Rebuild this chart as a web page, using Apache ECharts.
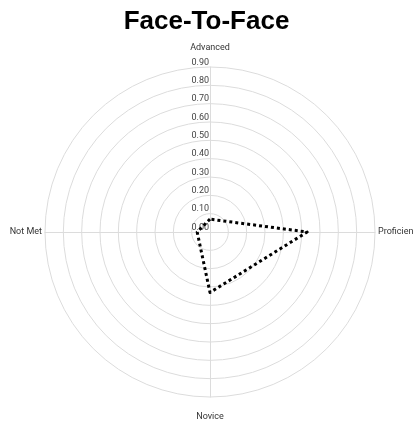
<!DOCTYPE html>
<html>

<head>
    <meta charset="utf-8">
    <script src="https://cdn.jsdelivr.net/npm/echarts@6.0.0/dist/echarts.min.js"></script>
    <style>
        body { margin: 0; }
        #main { width: 413px; height: 423px; }
    </style>
</head>

<body>
    <div id="main"></div>
</body>

<script type="text/javascript">
    // clockwise from the top
    var categories = ['Advanced', 'Proficient', 'Novice', 'Not Met'];
    var values = [0.07, 0.53, 0.33, 0.07];
    var axisMax = 0.9;
    var axisSteps = 9;
    // gap between ring and label text, per indicator
    var nameGaps = [15, 3, 15, 3];

    var chart = echarts.init(document.getElementById('main'));

    // echarts radar runs counter-clockwise, so walk the list backwards after the first one
    var order = [0];
    for (var k = categories.length - 1; k > 0; k--) order.push(k);

    var indicators = order.map(function (i) {
        var ind = { name: categories[i], min: 0, max: axisMax, nameGap: nameGaps[i] };
        if (i === 0) {
            ind.axisLabel = { show: true };
        }
        return ind;
    });
    var seriesValues = order.map(function (i) { return values[i]; });

    option = {
        title: {
            text: 'Face-To-Face',
            left: 'center',
            top: 4,
            textStyle: {
                fontFamily: 'Liberation Sans',
                fontSize: 26,
                fontWeight: 'bold',
                color: '#000'
            }
        },
        radar: {
            center: [210, 232],
            radius: 165,
            startAngle: 90,
            shape: 'circle',
            splitNumber: axisSteps,
            indicator: indicators,
            axisName: {
                color: '#333',
                fontFamily: 'Roboto',
                fontSize: 9
            },
            axisLine: { lineStyle: { color: '#dcdcdc', width: 1 } },
            splitLine: { lineStyle: { color: '#dcdcdc', width: 1 } },
            splitArea: { show: false },
            axisTick: { show: false },
            axisLabel: {
                show: false,
                color: '#444',
                fontFamily: 'Roboto',
                fontSize: 9,
                margin: 1,
                verticalAlign: 'bottom',
                formatter: function (v) { return v.toFixed(2); }
            }
        },
        series: [{
            type: 'radar',
            symbol: 'none',
            lineStyle: {
                color: '#000',
                width: 3,
                type: [3, 3]
            },
            data: [{ value: seriesValues, name: 'Face-To-Face' }]
        }]
    };

    chart.setOption(option);
</script>

</html>
